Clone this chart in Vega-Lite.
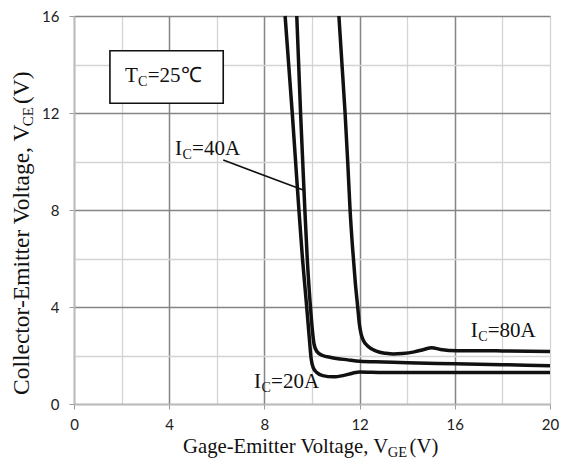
{
  "$schema": "https://vega.github.io/schema/vega-lite/v6.json",
  "width": 476,
  "height": 388,
  "autosize": {"type": "none"},
  "padding": {"left": 74, "top": 16, "right": 12, "bottom": 59},
  "background": "white",
  "config": {"view": {"stroke": null}},
  "datasets": {
    "curves": [
      {"series": "20A", "vge": 8.87, "vce": 16},
      {"series": "20A", "vge": 9.02, "vce": 14},
      {"series": "20A", "vge": 9.17, "vce": 12},
      {"series": "20A", "vge": 9.31, "vce": 10},
      {"series": "20A", "vge": 9.45, "vce": 8},
      {"series": "20A", "vge": 9.6, "vce": 6},
      {"series": "20A", "vge": 9.76, "vce": 4.2},
      {"series": "20A", "vge": 9.88, "vce": 2.8},
      {"series": "20A", "vge": 9.96, "vce": 1.9},
      {"series": "20A", "vge": 10.05, "vce": 1.5},
      {"series": "20A", "vge": 10.2, "vce": 1.3},
      {"series": "20A", "vge": 10.45, "vce": 1.17},
      {"series": "20A", "vge": 10.9, "vce": 1.12},
      {"series": "20A", "vge": 11.3, "vce": 1.17},
      {"series": "20A", "vge": 11.7, "vce": 1.27},
      {"series": "20A", "vge": 12.0, "vce": 1.32},
      {"series": "20A", "vge": 13.0, "vce": 1.3},
      {"series": "20A", "vge": 16.0, "vce": 1.3},
      {"series": "20A", "vge": 20.0, "vce": 1.3},
      {"series": "40A", "vge": 9.36, "vce": 16},
      {"series": "40A", "vge": 9.44, "vce": 14},
      {"series": "40A", "vge": 9.52, "vce": 12},
      {"series": "40A", "vge": 9.61, "vce": 10},
      {"series": "40A", "vge": 9.7, "vce": 8},
      {"series": "40A", "vge": 9.8, "vce": 6},
      {"series": "40A", "vge": 9.92, "vce": 4.2},
      {"series": "40A", "vge": 10.02, "vce": 3.0},
      {"series": "40A", "vge": 10.08, "vce": 2.5},
      {"series": "40A", "vge": 10.2, "vce": 2.17},
      {"series": "40A", "vge": 10.45, "vce": 2.0},
      {"series": "40A", "vge": 10.8, "vce": 1.92},
      {"series": "40A", "vge": 11.5, "vce": 1.82},
      {"series": "40A", "vge": 12.0, "vce": 1.76},
      {"series": "40A", "vge": 13.0, "vce": 1.73},
      {"series": "40A", "vge": 14.0, "vce": 1.7},
      {"series": "40A", "vge": 16.0, "vce": 1.66},
      {"series": "40A", "vge": 18.0, "vce": 1.62},
      {"series": "40A", "vge": 20.0, "vce": 1.58},
      {"series": "80A", "vge": 11.13, "vce": 16},
      {"series": "80A", "vge": 11.26, "vce": 14},
      {"series": "80A", "vge": 11.39, "vce": 12},
      {"series": "80A", "vge": 11.5, "vce": 10},
      {"series": "80A", "vge": 11.6, "vce": 8},
      {"series": "80A", "vge": 11.7, "vce": 6.5},
      {"series": "80A", "vge": 11.82, "vce": 5.0},
      {"series": "80A", "vge": 11.92, "vce": 4.0},
      {"series": "80A", "vge": 11.99, "vce": 3.3},
      {"series": "80A", "vge": 12.06, "vce": 2.9},
      {"series": "80A", "vge": 12.16, "vce": 2.62},
      {"series": "80A", "vge": 12.35, "vce": 2.38},
      {"series": "80A", "vge": 12.7, "vce": 2.18},
      {"series": "80A", "vge": 13.1, "vce": 2.09},
      {"series": "80A", "vge": 13.42, "vce": 2.06},
      {"series": "80A", "vge": 13.8, "vce": 2.08},
      {"series": "80A", "vge": 14.3, "vce": 2.15},
      {"series": "80A", "vge": 14.7, "vce": 2.25},
      {"series": "80A", "vge": 15.03, "vce": 2.32},
      {"series": "80A", "vge": 15.4, "vce": 2.25},
      {"series": "80A", "vge": 16.1, "vce": 2.2},
      {"series": "80A", "vge": 17.0, "vce": 2.2},
      {"series": "80A", "vge": 18.0, "vce": 2.19},
      {"series": "80A", "vge": 20.0, "vce": 2.16}
    ],
    "box": [
      {"x": 1.51, "x2": 6.27, "y": 12.4, "y2": 14.57}
    ],
    "leader": [
      {"x": 6.27, "y": 10.06, "x2": 9.63, "y2": 8.82}
    ],
    "ann": [
      {"role": "label", "x": 2.14, "y": 13.28, "text": "T"},
      {"role": "sub", "x": 2.69, "y": 13.28, "text": "C"},
      {"role": "label", "x": 3.1, "y": 13.28, "text": "=25℃"},
      {"role": "label", "x": 4.24, "y": 10.27, "text": "I"},
      {"role": "sub", "x": 4.56, "y": 10.27, "text": "C"},
      {"role": "label", "x": 4.96, "y": 10.27, "text": "=40A"},
      {"role": "label", "x": 16.67, "y": 2.78, "text": "I"},
      {"role": "sub", "x": 16.99, "y": 2.78, "text": "C"},
      {"role": "label", "x": 17.38, "y": 2.78, "text": "=80A"},
      {"role": "label", "x": 7.56, "y": 0.65, "text": "I"},
      {"role": "sub", "x": 7.88, "y": 0.65, "text": "C"},
      {"role": "label", "x": 8.28, "y": 0.65, "text": "=20A"},
      {"role": "xtitle", "x": 4.58, "y": -2.02, "text": "Gage-Emitter Voltage, V"},
      {"role": "xsub", "x": 13.18, "y": -2.02, "text": "GE"},
      {"role": "xtitle", "x": 14.1, "y": -2.02, "text": "(V)"},
      {"role": "ytitle", "x": -1.89, "y": 0.37, "text": "Collector-Emitter Voltage, V"},
      {"role": "ysub", "x": -1.89, "y": 11.45, "text": "CE"},
      {"role": "ytitle", "x": -1.89, "y": 12.37, "text": "(V)"}
    ]
  },
  "layer": [
    {
      "data": {"name": "curves"},
      "mark": {"type": "line", "interpolate": "monotone", "strokeWidth": 3.5, "color": "#111111", "strokeCap": "butt"},
      "encoding": {
        "x": {
          "field": "vge", "type": "quantitative",
          "scale": {"domain": [0, 20], "nice": false},
          "axis": {
            "values": [0, 2, 4, 6, 8, 10, 12, 14, 16, 18, 20],
            "title": null,
            "grid": true,
            "gridColor": {"condition": {"test": "datum.value % 4 === 0 && datum.value < 20", "value": "#858585"}, "value": "#d4d4d4"},
            "gridWidth": {"condition": {"test": "datum.value % 4 === 0 && datum.value < 20", "value": 1.5}, "value": 1.3},
            "labelExpr": "datum.value % 4 === 0 ? datum.label : ''",
            "tickOpacity": {"condition": {"test": "datum.value % 4 === 0", "value": 1}, "value": 0},
            "tickSize": 5,
            "tickColor": "#9a9a9a",
            "domainColor": "#bdbdbd",
            "domainWidth": 1.5,
            "labelFont": "Lato",
            "labelFontSize": 15,
            "labelColor": "#222222",
            "labelPadding": 8,
            "labelFlush": false,
            "labelOverlap": false
          }
        },
        "y": {
          "field": "vce", "type": "quantitative",
          "scale": {"domain": [0, 16], "nice": false},
          "axis": {
            "values": [0, 2, 4, 6, 8, 10, 12, 14, 16],
            "title": null,
            "grid": true,
            "gridColor": {"condition": {"test": "datum.value % 4 === 0", "value": "#858585"}, "value": "#d4d4d4"},
            "gridWidth": {"condition": {"test": "datum.value % 4 === 0", "value": 1.5}, "value": 1.3},
            "labelExpr": "datum.value % 4 === 0 ? datum.label : ''",
            "tickOpacity": {"condition": {"test": "datum.value % 4 === 0", "value": 1}, "value": 0},
            "tickSize": 5,
            "tickColor": "#9a9a9a",
            "domainColor": "#bdbdbd",
            "domainWidth": 1.5,
            "labelFont": "Lato",
            "labelFontSize": 15,
            "labelColor": "#222222",
            "labelPadding": 10,
            "labelFlush": false,
            "labelOverlap": false
          }
        },
        "detail": {"field": "series"}
      }
    },
    {
      "data": {"name": "box"},
      "mark": {"type": "rect", "fill": "white", "stroke": "#111111", "strokeWidth": 1.6},
      "encoding": {
        "x": {"field": "x", "type": "quantitative"},
        "x2": {"field": "x2"},
        "y": {"field": "y", "type": "quantitative"},
        "y2": {"field": "y2"}
      }
    },
    {
      "data": {"name": "leader"},
      "mark": {"type": "rule", "stroke": "#111111", "strokeWidth": 1.6},
      "encoding": {
        "x": {"field": "x", "type": "quantitative"},
        "x2": {"field": "x2"},
        "y": {"field": "y", "type": "quantitative"},
        "y2": {"field": "y2"}
      }
    },
    {
      "data": {"name": "ann"},
      "transform": [{"filter": "datum.role === 'label'"}],
      "mark": {"type": "text", "font": "Liberation Serif", "fontSize": 21, "align": "left", "baseline": "alphabetic", "color": "#111111"},
      "encoding": {
        "x": {"field": "x", "type": "quantitative"},
        "y": {"field": "y", "type": "quantitative"},
        "text": {"field": "text"}
      }
    },
    {
      "data": {"name": "ann"},
      "transform": [{"filter": "datum.role === 'xtitle'"}],
      "mark": {"type": "text", "font": "Liberation Serif", "fontSize": 20.7, "align": "left", "baseline": "alphabetic", "color": "#111111"},
      "encoding": {
        "x": {"field": "x", "type": "quantitative"},
        "y": {"field": "y", "type": "quantitative"},
        "text": {"field": "text"}
      }
    },
    {
      "data": {"name": "ann"},
      "transform": [{"filter": "datum.role === 'sub'"}],
      "mark": {"type": "text", "font": "Liberation Serif", "fontSize": 14, "align": "left", "baseline": "alphabetic", "dy": 4, "color": "#111111"},
      "encoding": {
        "x": {"field": "x", "type": "quantitative"},
        "y": {"field": "y", "type": "quantitative"},
        "text": {"field": "text"}
      }
    },
    {
      "data": {"name": "ann"},
      "transform": [{"filter": "datum.role === 'xsub'"}],
      "mark": {"type": "text", "font": "Liberation Serif", "fontSize": 14.5, "align": "left", "baseline": "alphabetic", "dy": 4, "color": "#111111"},
      "encoding": {
        "x": {"field": "x", "type": "quantitative"},
        "y": {"field": "y", "type": "quantitative"},
        "text": {"field": "text"}
      }
    },
    {
      "data": {"name": "ann"},
      "transform": [{"filter": "datum.role === 'ytitle'"}],
      "mark": {"type": "text", "font": "Liberation Serif", "fontSize": 23.5, "align": "left", "baseline": "alphabetic", "angle": 270, "color": "#111111"},
      "encoding": {
        "x": {"field": "x", "type": "quantitative"},
        "y": {"field": "y", "type": "quantitative"},
        "text": {"field": "text"}
      }
    },
    {
      "data": {"name": "ann"},
      "transform": [{"filter": "datum.role === 'ysub'"}],
      "mark": {"type": "text", "font": "Liberation Serif", "fontSize": 15, "align": "left", "baseline": "alphabetic", "angle": 270, "dy": 4, "color": "#111111"},
      "encoding": {
        "x": {"field": "x", "type": "quantitative"},
        "y": {"field": "y", "type": "quantitative"},
        "text": {"field": "text"}
      }
    }
  ]
}
